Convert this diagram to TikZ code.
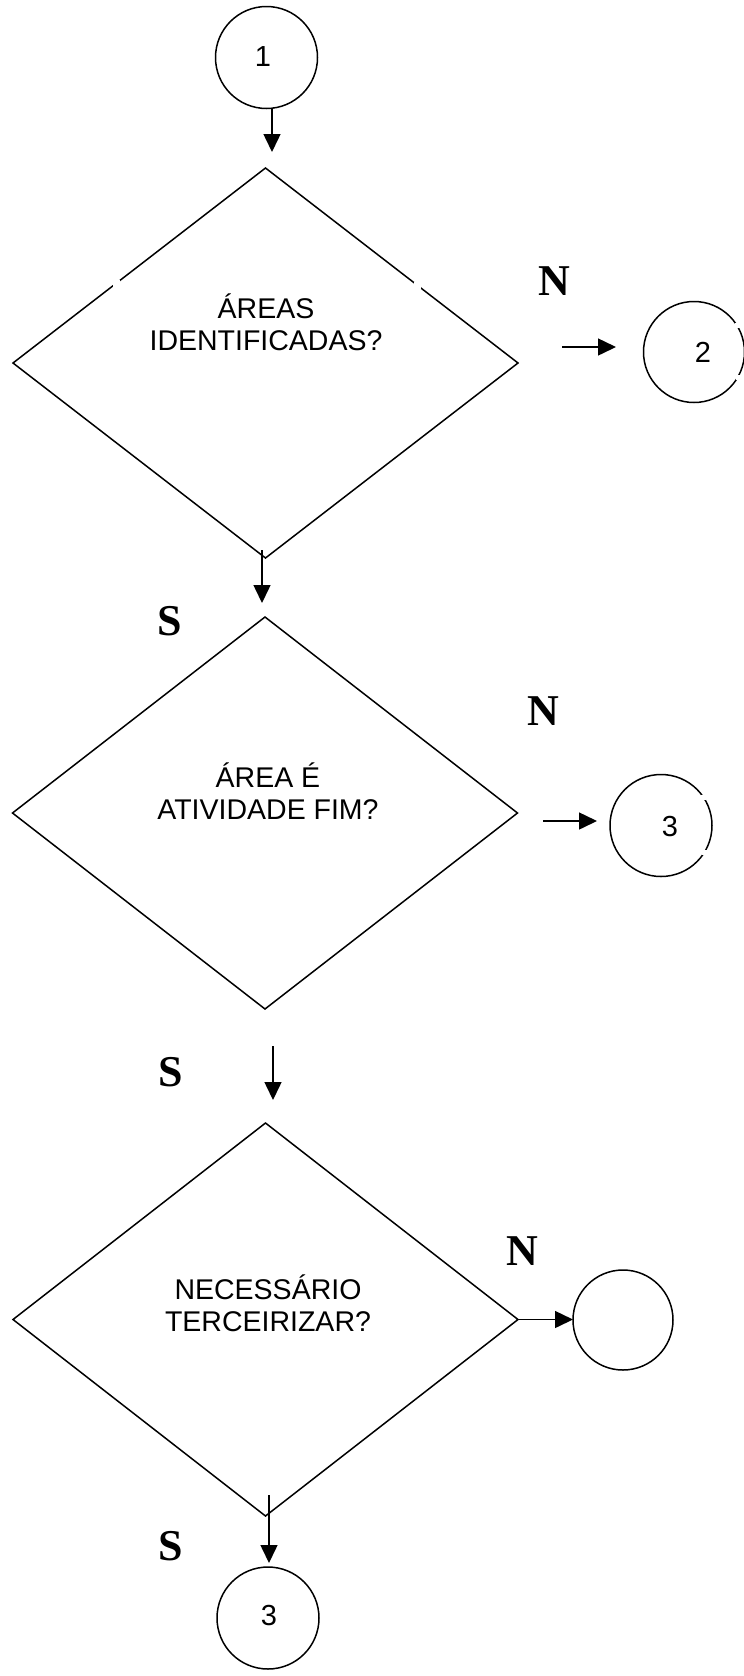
\documentclass[tikz,border=0pt]{standalone}
\usepackage{fontspec}
\setmainfont{Liberation Sans}
\newfontfamily\branchfont{Liberation Serif}
\usetikzlibrary{shapes.geometric,arrows.meta}
\begin{document}
\begin{tikzpicture}[x=1pt,y=-1pt,
  line width=1.5pt,
  decision/.style={draw,shape=diamond,inner sep=0pt,outer sep=0pt,
    minimum width=505pt,minimum height=#1},
  connector/.style={draw,circle,inner sep=0pt,outer sep=0pt,minimum size=#1},
  qtext/.style={font=\fontsize{28.5}{32}\selectfont,anchor=base,inner sep=0pt},
  num/.style={font=\fontsize{29}{33}\selectfont,inner sep=0pt},
  branch/.style={font=\branchfont\bfseries\fontsize{44}{48}\selectfont,inner sep=0pt},
  flow/.style={-{Triangle[length=18pt,width=17pt]},line width=1.5pt},
  gap/.style={fill=white}
]
\useasboundingbox (0,0) rectangle (744,1676);

% start connector
\node[connector=102pt] (c1) at (266.5,57.5) {};
\node[num] (n1) at (263,57) {1};
\coordinate (a0s) at (272,108.2);
\coordinate (a0e) at (272,152);
\draw[flow] (a0s) -- (a0e);

% first decision
\node[decision=390pt] (d1) at (265.5,363) {};
\fill[gap] (112.5,280) rectangle (119.5,287);
\fill[gap] (413.5,281.5) rectangle (420.5,288.5);
\node[qtext] (q1a) at (266,318) {ÁREAS};
\node[qtext] (q1b) at (266,350) {IDENTIFICADAS?};
\node[branch] (no1) at (554,281) {N};
\coordinate (a1s) at (562,347);
\coordinate (a1e) at (616,347);
\draw[flow] (a1s) -- (a1e);
\node[connector=101pt] (c2) at (694,352) {};
\fill[gap] (734.5,322.5) rectangle (739.5,327.5);
\fill[gap] (735.5,374.5) rectangle (740.5,379.5);
\node[num] (n2) at (703,352) {2};

% second decision
\coordinate (a2s) at (262,550);
\coordinate (a2e) at (262,603);
\draw[flow] (a2s) -- (a2e);
\node[branch] (s1) at (170,621) {S};
\node[decision=392pt] (d2) at (265,813) {};
\node[qtext] (q2a) at (268,787) {ÁREA É};
\node[qtext] (q2b) at (268,819) {ATIVIDADE FIM?};
\node[branch] (no2) at (543,711) {N};
\coordinate (a3s) at (543,821);
\coordinate (a3e) at (597,821);
\draw[flow] (a3s) -- (a3e);
\node[connector=102pt] (c3) at (661,825.5) {};
\fill[gap] (700.5,794.5) rectangle (705.5,799.5);
\fill[gap] (702,849.5) rectangle (707,854.5);
\node[num] (n3) at (670,827) {3};

% third decision
\node[branch] (s2) at (171,1072) {S};
\coordinate (a4s) at (273,1046);
\coordinate (a4e) at (273,1100);
\draw[flow] (a4s) -- (a4e);
\node[decision=393pt] (d3) at (265.5,1319.5) {};
\node[qtext] (q3a) at (268,1299) {NECESSÁRIO};
\node[qtext] (q3b) at (268,1331) {TERCEIRIZAR?};
\node[branch] (no3) at (522,1251) {N};
\node[connector=100pt] (c4) at (623,1320) {};
\draw[flow] (d3.east) -- (d3.east -| c4.west);

% end connector
\node[branch] (s3) at (171,1546) {S};
\coordinate (a5s) at (269,1495);
\coordinate (a5e) at (269,1563);
\draw[flow] (a5s) -- (a5e);
\node[connector=102pt] (c5) at (268,1618) {};
\node[num] (n5) at (269,1615) {3};
\end{tikzpicture}
\end{document}
